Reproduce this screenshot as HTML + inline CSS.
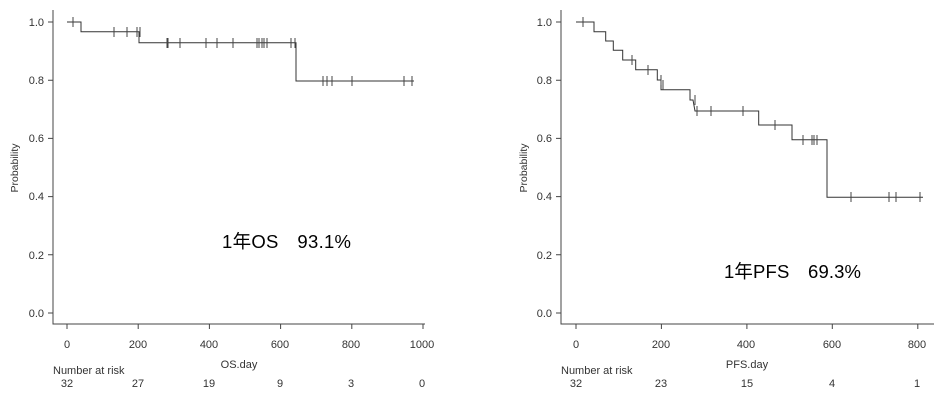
<!DOCTYPE html>
<html><head><meta charset="utf-8"><style>body{margin:0;background:#fff}svg{display:block}</style></head><body>
<svg width="950" height="400" xmlns="http://www.w3.org/2000/svg" font-family="Liberation Sans, Noto Sans CJK JP, sans-serif" fill="#222">
<g stroke="#444" stroke-width="1" fill="none">
<path d="M53 10V324H425"/>
<path d="M53 22h-5M53 80.2h-5M53 138.4h-5M53 196.6h-5M53 254.8h-5M53 313h-5"/>
<path d="M67 324v5M138.2 324v5M209.4 324v5M280.6 324v5M351.8 324v5M423 324v5"/>
<path d="M67 22H81V31.7H139V42.7H296V81H414" stroke="#333"/>
<path d="M73 17v10M114 27v10M127 27v10M137 27v10M140 27v10M167 38v10M168 38v10M180 38v10M206 38v10M217 38v10M233 38v10M257 38v10M259 38v10M262 38v10M264 38v10M267 38v10M291 38v10M295 38v10M323 76v10M327 76v10M332 76v10M352 76v10M404 76v10M412 76v10"/>
<path d="M561 10V324H934"/>
<path d="M561 22h-5M561 80.2h-5M561 138.4h-5M561 196.6h-5M561 254.8h-5M561 313h-5"/>
<path d="M576 324v5M661.4 324v5M746.9 324v5M832.3 324v5M917.8 324v5"/>
<path d="M576 22H594V31.7H605.7V41H613.3V50.3H622.7V60H635.7V69.7H657.3V80H661V89.7H690V100H693L695 111H758.7V125H792V139.7H827V197.3H923" stroke="#333"/>
<path d="M583 17v10M632 55v10M648 65v10M661 75v10M663 80v10M695 95v10M697 106v10M711 106v10M743 106v10M775 120v10M803 135v10M812 135v10M814 135v10M817 135v10M851 192v10M889 192v10M896 192v10M920 192v10"/>
</g>
<g font-size="11" fill="#333" text-anchor="end">
<text x="44" y="26">1.0</text><text x="44" y="84">0.8</text><text x="44" y="142">0.6</text><text x="44" y="200">0.4</text><text x="44" y="259">0.2</text><text x="44" y="317">0.0</text>
<text x="552" y="26">1.0</text><text x="552" y="84">0.8</text><text x="552" y="142">0.6</text><text x="552" y="200">0.4</text><text x="552" y="259">0.2</text><text x="552" y="317">0.0</text>
</g>
<g font-size="11" fill="#333" text-anchor="middle">
<text x="67" y="348">0</text><text x="138" y="348">200</text><text x="209" y="348">400</text><text x="280" y="348">600</text><text x="351" y="348">800</text><text x="422" y="348">1000</text>
<text x="576" y="348">0</text><text x="661" y="348">200</text><text x="746" y="348">400</text><text x="832" y="348">600</text><text x="917" y="348">800</text>
<text x="239" y="368">OS.day</text><text x="747" y="368">PFS.day</text>
<text x="67" y="387">32</text><text x="138" y="387">27</text><text x="209" y="387">19</text><text x="280" y="387">9</text><text x="351" y="387">3</text><text x="422" y="387">0</text>
<text x="576" y="387">32</text><text x="661" y="387">23</text><text x="747" y="387">15</text><text x="832" y="387">4</text><text x="917" y="387">1</text>
<text transform="translate(18 168) rotate(-90)" font-size="10.5">Probability</text>
<text transform="translate(527 168) rotate(-90)" font-size="10.5">Probability</text>
</g>
<g font-size="11" fill="#333"><text x="53" y="374">Number at risk</text><text x="561" y="374">Number at risk</text></g>
<g font-size="18.5" fill="#000">
<text x="222" y="248" textLength="129">1年OS　93.1%</text>
<text x="724" y="278" textLength="137">1年PFS　69.3%</text>
</g>
</svg>
</body></html>
